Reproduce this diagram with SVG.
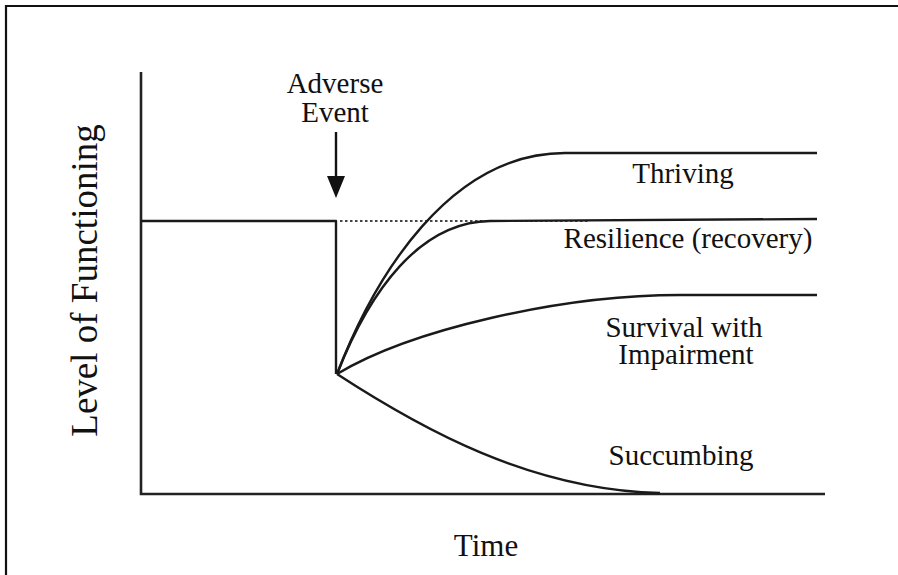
<svg xmlns="http://www.w3.org/2000/svg" width="898" height="575" viewBox="0 0 898 575">
<style>
.ln{fill:none;stroke:#1a1a1a;stroke-width:2.4;stroke-linejoin:round;stroke-linecap:butt}
.ax{fill:none;stroke:#222;stroke-width:2.6}
.dot{fill:none;stroke:#444;stroke-width:2.2;stroke-dasharray:2.5 2.5}
.t{font-family:'Liberation Serif','DejaVu Serif',serif;fill:#111;text-anchor:middle}
.lb{font-size:29px}
</style>
<rect width="898" height="575" fill="#fff"/>
<path d="M6,575 V6 H898" fill="none" stroke="#111" stroke-width="2.2"/>
<g id="axes">
<path class="ax" d="M141,72 V494 H825"/>
<text class="t" font-size="37" transform="translate(97,280.5) rotate(-90)">Level of Functioning</text>
<text class="t" font-size="31" x="486" y="556">Time</text>
</g>
<g id="event">
<text class="t lb" x="335" y="93">Adverse</text>
<text class="t lb" x="335" y="122">Event</text>
<line x1="336" y1="132" x2="336" y2="180" stroke="#111" stroke-width="2.4"/>
<polygon points="327,176 345,176 336,198" fill="#111"/>
</g>
<g id="connectors">
<path class="ln" d="M141,221 H336 V374"/>
<path class="dot" d="M340,221 H590"/>
<path id="thriving-curve" class="ln" d="M337,374 C375,275 450,153 565,153 H817"/>
<path id="resilience-curve" class="ln" d="M337,374 C370,290 420,222 490,221 L817,219"/>
<path id="survival-curve" class="ln" d="M337,374 C410,330 560,295 680,295 H817"/>
<path id="succumbing-curve" class="ln" d="M337,374 C420,428 530,490 660,493"/>
</g>
<g id="thriving"><text class="t lb" x="683" y="183">Thriving</text></g>
<g id="resilience"><text class="t lb" x="688" y="248">Resilience (recovery)</text></g>
<g id="survival"><text class="t lb" x="684" y="337">Survival with</text>
<text class="t lb" x="686" y="364">Impairment</text></g>
<g id="succumbing"><text class="t lb" x="681" y="465">Succumbing</text></g>
</svg>
